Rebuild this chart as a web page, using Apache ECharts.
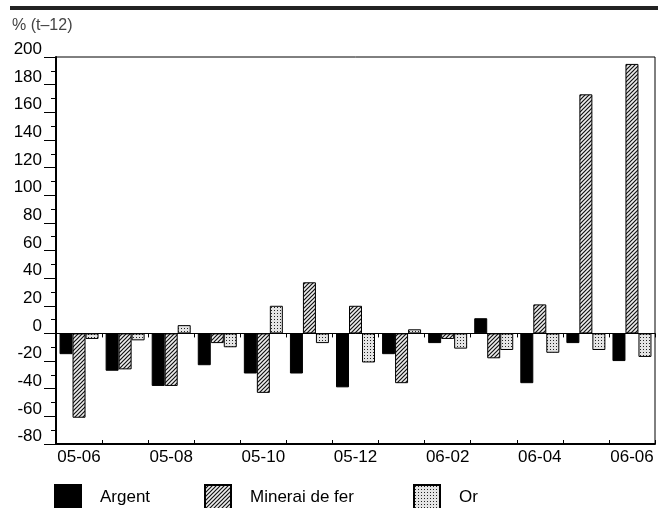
<!DOCTYPE html>
<html>
<head>
<meta charset="utf-8">
<script src="https://cdn.jsdelivr.net/npm/echarts@6/dist/echarts.min.js"></script>
<style>
  html, body { margin: 0; padding: 0; background: #fff; }
  #chart { width: 658px; height: 508px; }
</style>
</head>
<body>
<div id="chart"></div>
<script>
// months, year-on-year change in % (t-12)
const months = ["05-06", "05-07", "05-08", "05-09", "05-10", "05-11", "05-12",
  "06-01", "06-02", "06-03", "06-04", "06-05", "06-06"];
const argent = [-15, -27, -38, -23, -29, -29, -39, -15, -7, 11, -36, -7, -20];
const minerai = [-61, -26, -38, -7, -43, 37, 20, -36, -4, -18, 21, 173, 195];
const or = [-4, -5, 6, -10, 20, -7, -21, 3, -11, -12, -14, -12, -17];
const yTicks = { min: -80, max: 200, step: 20 };

const FONT = "'Liberation Sans', Arial, sans-serif";

// hatch pattern "/" for Minerai de fer
function hatchPattern() {
  const s = 4;
  const c = document.createElement("canvas");
  c.width = s;
  c.height = s;
  const g = c.getContext("2d");
  g.fillStyle = "#eeeeee";
  g.fillRect(0, 0, s, s);
  g.strokeStyle = "#111";
  g.lineWidth = 1.2;
  g.beginPath();
  g.moveTo(-1, s + 1); g.lineTo(s + 1, -1);
  g.moveTo(-1, 1); g.lineTo(1, -1);
  g.moveTo(s - 1, s + 1); g.lineTo(s + 1, s - 1);
  g.stroke();
  return c;
}

// dotted pattern for Or
function dotPattern() {
  const c = document.createElement("canvas");
  c.width = 3;
  c.height = 3;
  const g = c.getContext("2d");
  g.fillStyle = "#e4e4e4";
  g.fillRect(0, 0, 3, 3);
  g.fillStyle = "#222";
  g.fillRect(1, 1, 1, 1);
  return c;
}

const chart = echarts.init(document.getElementById("chart"));

const zeroAxis = {
  type: "category",
  data: months,
  position: "bottom",
  axisLine: { show: true, onZero: true, lineStyle: { color: "#000", width: 1 } },
  axisTick: { show: true, length: 4, interval: 0, lineStyle: { color: "#000" } },
  axisLabel: { show: false },
  splitLine: { show: false }
};

function legendAt(left, name) {
  return {
    left: left,
    top: 484,
    padding: 0,
    itemWidth: 26,
    itemHeight: 24,
    icon: "rect",
    selectedMode: false,
    data: [name],
    textStyle: { fontFamily: FONT, fontSize: 17, color: "#000", padding: [0, 0, 0, 14] }
  };
}

chart.setOption({
  animation: false,
  backgroundColor: "#fff",
  textStyle: { fontFamily: FONT },
  graphic: [
    { type: "rect", shape: { x: 10, y: 6, width: 648, height: 4 }, style: { fill: "#222" } },
    {
      type: "text", left: 12, top: 18,
      style: { text: "% (t\u201312)", fontFamily: FONT, fontSize: 16, fill: "#444" }
    }
  ],
  legend: [
    legendAt(54, "Argent"),
    legendAt(204, "Minerai de fer"),
    legendAt(413, "Or")
  ],
  grid: {
    left: 56, right: 3, top: 57, bottom: 64,
    show: true, borderColor: "#000", borderWidth: 1
  },
  xAxis: [
    {
      type: "category",
      data: months,
      position: "bottom",
      axisLine: { show: true, onZero: false, lineStyle: { color: "#000", width: 2 } },
      axisTick: { show: false },
      axisLabel: { interval: 1, margin: 5, fontFamily: FONT, fontSize: 17, color: "#000" },
      splitLine: { show: false }
    },
    zeroAxis,
    Object.assign({}, zeroAxis, {
      axisLine: { show: false, onZero: true },
      axisTick: { show: true, inside: true, length: 4, interval: 0, lineStyle: { color: "#000" } }
    })
  ],
  yAxis: {
    type: "value",
    min: yTicks.min,
    max: yTicks.max,
    interval: yTicks.step,
    axisLine: { show: true, lineStyle: { color: "#000", width: 2 } },
    axisTick: { show: true, length: 12, lineStyle: { color: "#000" } },
    minorTick: { show: true, splitNumber: 2, length: 5, lineStyle: { color: "#000" } },
    splitLine: { show: false },
    axisLabel: {
      margin: 14, fontFamily: FONT, fontSize: 17, color: "#000",
      verticalAlign: "bottom", lineHeight: 15
    }
  },
  series: [
    {
      name: "Argent", type: "bar", data: argent,
      barWidth: 13, barGap: "0%",
      itemStyle: { color: "#000", borderColor: "#000", borderWidth: 1 }
    },
    {
      name: "Minerai de fer", type: "bar", data: minerai,
      barWidth: 13, barGap: "0%",
      itemStyle: {
        color: { image: hatchPattern(), repeat: "repeat" },
        borderColor: "#000", borderWidth: 1
      }
    },
    {
      name: "Or", type: "bar", data: or,
      barWidth: 13, barGap: "0%",
      itemStyle: {
        color: { image: dotPattern(), repeat: "repeat" },
        borderColor: "#000", borderWidth: 1
      }
    }
  ]
});
</script>
</body>
</html>
